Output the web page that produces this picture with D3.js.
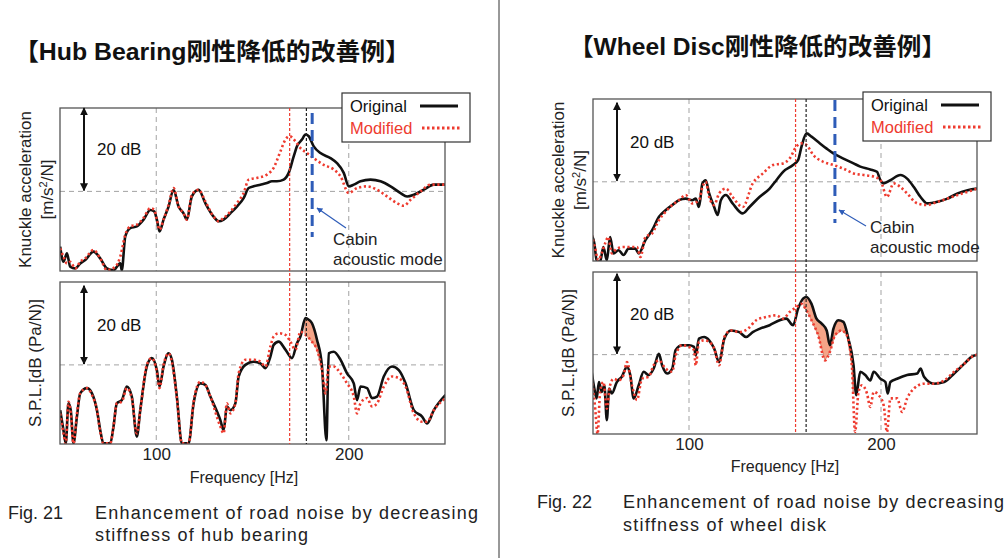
<!DOCTYPE html>
<html><head><meta charset="utf-8">
<script src="https://cdn.jsdelivr.net/npm/d3@7"></script>
<style>
body{margin:0;background:#fff;}
text{font-family:"Liberation Sans",Arial,sans-serif;}
</style></head>
<body><svg id="chart" width="1008" height="558"></svg>
<script>
// [frequency Hz, relative dB]
const hubAccOrig = [[50.1,-13.1],[51.8,-16.7],[53.6,-14.7],[55.3,-17.9],[57.9,-18.3],[60.5,-17.1],[63.1,-16.3],[67.4,-14.3],[70.9,-15.9],[74.4,-18.3],[77.8,-18.7],[81.3,-17.1],[82.1,-18.7],[83.9,-10.7],[86.5,-8.7],[89.9,-8.3],[93.4,-6.7],[96.9,-4.4],[99.0,-4.8],[100.3,-6.7],[101.7,-9.5],[103.8,-6.7],[106.4,-3.6],[109.0,0.4],[111.6,-3.6],[114.2,-5.2],[115.9,-6.7],[118.5,-1.2],[122.0,0.4],[125.5,-2.8],[129.8,-6.0],[132.4,-7.1],[135.0,-6.7],[138.5,-5.2],[141.9,-3.6],[145.4,-1.6],[148.0,0.8],[150.6,1.2],[154.1,1.6],[157.5,2.0],[160.1,2.4],[162.7,2.4],[166.2,2.8],[168.8,4.4],[171.4,8.3],[173.1,10.7],[175.7,12.3],[177.5,13.5],[179.2,13.1],[181.8,10.7],[185.3,9.1],[190.5,7.9],[193.9,6.7],[197.4,4.4],[200.0,1.2],[202.6,1.6],[206.1,2.4],[211.3,2.8],[216.5,2.4],[221.7,1.2],[226.9,-0.4],[230.3,-1.2],[233.8,-0.8],[239.0,0.4],[244.2,1.6],[250.3,1.6]];
const hubAccMod = [[50.1,-13.5],[51.8,-15.5],[53.6,-17.1],[55.3,-16.7],[57.9,-18.3],[60.5,-16.7],[63.1,-15.9],[67.4,-13.9],[70.9,-15.9],[74.4,-18.7],[78.7,-17.9],[81.3,-15.5],[83.9,-10.3],[86.5,-8.3],[89.9,-7.9],[93.4,-6.3],[96.9,-4.0],[99.0,-4.4],[100.3,-6.7],[101.7,-9.1],[103.8,-6.7],[106.4,-3.2],[109.0,0.8],[111.6,-3.6],[114.2,-5.2],[115.9,-6.7],[118.5,-0.8],[122.0,0.4],[125.5,-2.4],[129.8,-6.0],[132.4,-7.1],[135.0,-6.3],[138.5,-4.8],[141.9,-2.8],[145.4,-0.4],[148.0,2.8],[152.3,3.2],[157.5,4.0],[161.0,5.6],[164.5,9.5],[167.1,12.3],[169.3,13.1],[172.3,11.9],[174.9,10.3],[178.3,9.1],[181.8,7.9],[187.0,6.3],[192.2,5.2],[195.7,3.6],[200.0,-0.4],[204.3,0.8],[209.5,1.2],[214.7,0.4],[219.9,-1.2],[225.1,-2.8],[228.6,-3.4],[232.1,-2.0],[237.3,0],[242.5,1.6],[250.3,1.6]];
const hubSplOrig = [[50.1,-11.3],[51.8,-16.3],[53.0,-19.6],[54.4,-9.6],[55.6,-11.3],[57.0,-19.6],[58.8,-12.9],[60.5,-7.1],[64.0,-5.8],[66.6,-7.1],[69.2,-11.3],[70.9,-16.3],[72.6,-19.6],[76.1,-19.6],[77.8,-15.4],[79.5,-9.6],[82.1,-8.8],[84.7,-5.4],[87.3,-7.9],[89.9,-17.9],[91.7,-11.3],[95.1,-0.4],[97.7,1.7],[100.3,-1.3],[101.7,-5.4],[103.8,-0.4],[106.4,2.9],[108.1,1.3],[110.7,-7.9],[113.3,-19.6],[116.8,-19.6],[119.4,-9.6],[122.9,-4.6],[125.5,-5.0],[128.1,-7.9],[133.3,-13.8],[135.0,-16.3],[136.7,-10.4],[138.5,-11.3],[141.1,-9.6],[142.8,-2.9],[146.3,0],[150.6,0.8],[154.1,0.4],[156.7,-0.8],[159.3,2.1],[161.0,5.0],[163.6,5.8],[167.1,3.8],[170.5,1.7],[173.1,5.4],[174.9,7.1],[177.5,11.7],[179.2,11.3],[180.9,10.4],[183.5,6.3],[186.1,-0.4],[188.4,-18.8],[189.6,2.9],[192.2,3.3],[195.7,1.3],[199.1,-2.1],[202.6,-4.6],[204.3,-8.8],[206.1,-5.4],[209.5,-5.8],[212.1,-8.3],[214.7,-7.9],[218.2,-2.9],[222.5,-0.4],[226.0,-1.3],[229.5,-4.6],[233.8,-11.3],[238.1,-12.9],[240.7,-14.6],[244.2,-11.3],[250.3,-7.5]];
const hubSplMod = [[50.1,-12.1],[51.8,-17.1],[53.0,-19.6],[54.4,-9.2],[55.6,-12.1],[57.0,-19.6],[58.8,-12.1],[60.5,-7.1],[64.0,-5.8],[66.6,-7.5],[69.2,-11.3],[70.9,-16.7],[72.6,-19.6],[76.1,-19.6],[77.8,-15.4],[79.5,-9.6],[82.1,-9.2],[84.7,-5.8],[87.3,-8.3],[89.9,-17.1],[91.7,-11.3],[95.1,0],[97.7,1.7],[100.3,-1.7],[101.7,-5.8],[103.8,0],[106.4,2.9],[108.1,0.8],[110.7,-8.3],[113.3,-19.6],[116.8,-19.6],[119.4,-9.2],[122.9,-4.2],[125.5,-5.0],[128.1,-7.9],[133.3,-15.4],[135.0,-17.1],[136.7,-9.6],[138.5,-12.1],[141.1,-9.6],[142.8,-2.1],[146.3,1.3],[150.6,1.3],[154.1,0.8],[156.7,-0.4],[159.3,4.6],[161.0,7.1],[163.6,7.9],[167.1,7.5],[169.7,5.8],[172.3,3.8],[174.9,8.3],[177.5,7.5],[180.9,5.8],[183.5,3.8],[186.1,-1.3],[187.9,-7.1],[189.6,-0.4],[192.2,-0.4],[195.7,-2.1],[199.1,-4.6],[202.6,-7.9],[204.3,-12.1],[206.1,-9.6],[209.5,-8.3],[212.1,-10.4],[214.7,-9.6],[218.2,-5.4],[222.5,-2.9],[226.0,-3.3],[229.5,-5.4],[233.8,-12.1],[238.1,-14.2],[240.7,-14.2],[244.2,-11.3],[250.3,-8.3]];

const discAccOrig = [[49.3,-13.3],[50.7,-15.4],[51.9,-19.6],[53.7,-20],[55.4,-16.3],[57.2,-19.6],[58.9,-13.8],[60.7,-17.9],[63.3,-17.1],[65.9,-18.3],[68.5,-16.7],[72.0,-16.7],[73.8,-17.9],[77.3,-14.6],[80.8,-12.1],[84.3,-8.8],[87.8,-7.1],[91.3,-5.8],[94.8,-4.6],[98.3,-4.2],[101.7,-4.6],[103.5,-4.2],[105.2,-6.3],[107.0,-0.4],[108.7,0.4],[110.5,-2.9],[113.1,-6.3],[114.9,-8.3],[116.6,-4.6],[119.2,-3.3],[122.7,-5.4],[128.0,-7.9],[131.5,-6.3],[136.7,-3.8],[142.0,-1.7],[145.5,0.4],[149.0,2.5],[154.2,4.2],[156.8,5.4],[158.6,8.8],[161.2,12.1],[163.8,11.3],[168.2,9.6],[171.7,8.3],[175.2,7.1],[180.4,5.8],[185.7,4.6],[189.2,3.8],[194.4,3.1],[197.9,2.5],[199.7,0.4],[201.4,-0.4],[204.9,0.4],[210.1,1.7],[213.6,0.8],[217.1,-1.3],[220.6,-3.8],[224.1,-5.4],[229.4,-5.0],[234.6,-4.2],[239.9,-2.9],[245.1,-2.1],[250.3,-1.7]];
const discAccMod = [[49.3,-13.3],[51.0,-16.3],[52.8,-19.6],[54.5,-17.9],[56.3,-15.4],[58.0,-13.8],[59.8,-17.9],[62.4,-16.7],[65.9,-16.3],[69.4,-16.3],[72.9,-16.3],[74.7,-18.8],[77.3,-13.8],[80.8,-12.9],[84.3,-9.6],[87.8,-7.5],[91.3,-5.8],[94.8,-4.6],[98.3,-3.3],[101.7,-5.4],[105.2,-4.6],[107.0,-1.3],[108.7,0],[110.5,-3.8],[113.1,-5.8],[115.7,-2.9],[119.2,-1.7],[122.7,-3.8],[128.0,-6.3],[133.2,-0.4],[138.5,2.1],[143.7,4.2],[149.0,4.6],[152.4,5.8],[155.9,8.8],[158.6,9.6],[161.2,9.2],[164.7,6.7],[169.9,5.0],[175.2,4.2],[180.4,3.3],[185.7,2.1],[190.9,1.7],[196.2,1.3],[199.7,0.4],[203.1,-3.8],[206.6,-0.4],[210.1,-1.3],[213.6,-2.9],[218.9,-5.4],[224.1,-5.8],[229.4,-5.0],[234.6,-4.2],[239.9,-3.3],[245.1,-2.5],[250.3,-1.7]];
const discSplOrig = [[49.3,-4.2],[50.7,-8.3],[51.9,-10.7],[53.1,-6.7],[54.5,-9.1],[55.9,-7.5],[57.2,-16.0],[58.4,-8.3],[59.8,-9.5],[62.4,-6.7],[65.0,-5.4],[67.7,-3.0],[69.4,-5.0],[71.2,-10.7],[73.8,-7.5],[76.4,-4.2],[79.0,-5.0],[81.6,-3.4],[84.3,0.2],[86.0,-2.6],[88.6,-4.6],[91.3,-3.4],[93.0,1.1],[96.5,2.3],[100,2.3],[102.6,1.9],[103.5,-0.2],[105.2,3.9],[107.9,4.3],[110.5,3.5],[113.1,1.5],[115.7,-1.8],[118.4,3.9],[121.9,5.9],[126.2,5.5],[129.7,4.3],[133.2,5.5],[136.7,6.3],[142.0,7.2],[147.2,8.4],[150.7,8.8],[154.2,7.2],[156.8,11.2],[159.4,13.7],[161.2,14.1],[163.8,12.4],[166.4,8.8],[169.1,7.6],[171.7,5.9],[173.4,2.3],[175.2,6.3],[177.8,8.4],[180.4,8.0],[183.0,3.9],[185.7,-2.6],[187.1,-9.9],[189.2,-4.2],[191.8,-5.0],[194.4,-6.3],[196.2,-4.2],[199.7,-5.9],[202.3,-6.7],[203.5,-9.5],[204.9,-6.7],[208.4,-5.9],[213.6,-5.0],[218.9,-4.6],[220.6,-3.4],[222.4,-5.4],[227.6,-7.1],[232.9,-6.7],[238.1,-4.6],[243.4,-2.2],[246.9,-0.6],[250.3,0]];
const discSplMod = [[49.3,-5.9],[51.0,-12.4],[52.4,-19.4],[53.7,-9.1],[55.4,-6.7],[57.2,-13.2],[58.9,-7.5],[60.7,-5.9],[63.3,-6.3],[65.9,-5.0],[67.7,-1.8],[70.3,-7.5],[72.9,-11.1],[75.5,-5.9],[79.0,-5.4],[81.6,-2.6],[84.3,-1.4],[87.8,-3.4],[91.3,-4.2],[93.0,-0.2],[96.5,2.3],[100,1.9],[102.6,1.1],[103.5,-2.6],[105.2,3.1],[107.9,3.5],[110.5,3.1],[113.1,1.5],[115.7,-2.6],[118.4,4.3],[121.9,5.9],[126.2,5.5],[130.6,6.3],[135.0,8.4],[140.2,9.2],[145.5,9.6],[149.0,8.8],[152.4,10.4],[155.9,11.6],[158.6,12.4],[161.2,10.8],[163.8,8.4],[167.3,4.7],[170.8,-1.4],[173.4,0.7],[176.0,4.7],[179.5,5.9],[182.2,4.7],[184.8,-2.6],[186.5,-18.9],[188.3,-9.1],[190.0,-7.5],[192.7,-9.5],[194.4,-12.8],[196.2,-9.1],[198.8,-9.9],[201.4,-12.4],[203.1,-18.9],[204.9,-10.7],[208.4,-10.7],[211.0,-14.0],[213.6,-10.7],[217.1,-8.3],[222.4,-7.1],[227.6,-7.1],[232.9,-6.3],[238.1,-4.2],[243.4,-2.2],[248.6,-0.2],[250.3,0]];

const freqTicks = [100, 200];
const gridFreqs = [100, 200];

const panels = [
  {title:"【Hub Bearing刚性降低的改善例】", tx:14, ty:60, tw:396, x0:60, x1:445,
   top:{y0:108, y1:271, dom:[-18.9,19.8], orig:hubAccOrig, mod:hubAccMod},
   bot:{y0:282, y1:444, dom:[-19.75,20.7], orig:hubSplOrig, mod:hubSplMod, fill:[177.2,188]},
   redF:169.3, blackF:178, blueF:181, blueY:[113,237],
   cabin:{x:333, y:245, ax:[346,228], bx:[317,208]},
   legend:{x:342, y:93}, ylab:{k:25, m:47, s:35}, freqX:244,
   xlabY:463, freqY:483, cap:{fx:8, tx:95, y1:519, y2:541, w1:383, w2:213, l1:"Enhancement of road noise by decreasing", l2:"stiffness of hub bearing", fig:"Fig. 21"}},
  {title:"【Wheel Disc刚性降低的改善例】", tx:569, ty:55, tw:377, x0:593, x1:977,
   top:{y0:99, y1:261, dom:[-19.8,20.7], orig:discAccOrig, mod:discAccMod},
   bot:{y0:272, y1:434, dom:[-19.4,20.2], orig:discSplOrig, mod:discSplMod, fill:[159.8,185.5]},
   redF:155.5, blackF:161, blueF:176, blueY:[100,223],
   cabin:{x:870, y:233, ax:[866,226], bx:[839,210]},
   legend:{x:863, y:92}, ylab:{k:558, m:580, s:568}, freqX:785,
   xlabY:453, freqY:472, cap:{fx:537, tx:623, y1:508, y2:531, w1:381, w2:203, l1:"Enhancement of road noise by decreasing", l2:"stiffness of wheel disk", fig:"Fig. 22"}}
];

const RED = "#ee3b2f", BLUE = "#2e5cb8";
const svg = d3.select("#chart");
const defs = svg.append("defs");
["arrowBlk","arrowBlue"].forEach((id, i) => {
  defs.append("marker").attr("id", id).attr("viewBox","0 0 10 10").attr("refX",9).attr("refY",5)
    .attr("markerWidth", i ? 5 : 4).attr("markerHeight", i ? 5 : 4).attr("orient","auto-start-reverse")
    .append("path").attr("d","M0,0L10,5L0,10z").attr("fill", i ? BLUE : "#111");
});

// separator
svg.append("line").attr("x1",499).attr("x2",499).attr("y1",0).attr("y2",558).attr("stroke","#333").attr("stroke-width",1);

function interp(series, f) {
  const i = d3.bisector(d => d[0]).left(series, f);
  if (i <= 0) return series[0][1];
  if (i >= series.length) return series[series.length-1][1];
  const a = series[i-1], b = series[i];
  return a[1] + (b[1]-a[1]) * (f-a[0]) / (b[0]-a[0]);
}

panels.forEach((p, pi) => {
  const g = svg.append("g");
  const x = d3.scaleLinear().domain([50, 250]).range([p.x0, p.x1]);

  g.append("text").attr("x", p.tx).attr("y", p.ty).text(p.title)
    .style("font-family","'Liberation Sans','Noto Sans CJK SC',sans-serif")
    .attr("font-size", 24).attr("font-weight","bold").attr("fill","#111")
    .attr("textLength", p.tw).attr("lengthAdjust","spacingAndGlyphs");

  [p.top, p.bot].forEach((pl, k) => {
    const y = d3.scaleLinear().domain(pl.dom).range([pl.y1, pl.y0]);
    const cid = "clip" + pi + k;
    defs.append("clipPath").attr("id", cid).append("rect")
      .attr("x", p.x0).attr("y", pl.y0).attr("width", p.x1 - p.x0).attr("height", pl.y1 - pl.y0);

    // grid
    gridFreqs.forEach(f => g.append("line").attr("x1", x(f)).attr("x2", x(f)).attr("y1", pl.y0).attr("y2", pl.y1)
      .attr("stroke","#999").attr("stroke-dasharray","5,4").attr("stroke-width",0.9));
    g.append("line").attr("x1", p.x0).attr("x2", p.x1).attr("y1", y(0)).attr("y2", y(0))
      .attr("stroke","#999").attr("stroke-dasharray","5,4").attr("stroke-width",0.9);

    const cg = g.append("g").attr("clip-path", `url(#${cid})`);
    const line = d3.line().x(d => x(d[0])).y(d => y(d[1])).curve(d3.curveMonotoneX);

    if (pl.fill) {
      const fs = d3.range(pl.fill[0], pl.fill[1], 0.25).concat([pl.fill[1]]);
      cg.append("path").datum(fs)
        .attr("d", d3.area().x(f => x(f)).y0(f => y(interp(pl.mod, f))).y1(f => y(Math.max(interp(pl.orig, f), interp(pl.mod, f)))))
        .attr("fill","#f4a487").attr("stroke","#c0503a").attr("stroke-width",0.6);
    }
    cg.append("path").datum(pl.orig).attr("d", line).attr("fill","none")
      .attr("stroke","#111").attr("stroke-width",2.6).attr("stroke-linejoin","round");
    cg.append("path").datum(pl.mod).attr("d", line).attr("fill","none")
      .attr("stroke",RED).attr("stroke-width",2.6).attr("stroke-dasharray","2.2,2.6");

    g.append("rect").attr("x", p.x0).attr("y", pl.y0).attr("width", p.x1 - p.x0).attr("height", pl.y1 - pl.y0)
      .attr("fill","none").attr("stroke","#555").attr("stroke-width",1.3);

    // 20 dB arrow
    const ax = p.x0 + 24;
    g.append("line").attr("x1", ax).attr("x2", ax).attr("y1", y(0) - 1).attr("y2", y(20) + 1)
      .attr("stroke","#111").attr("stroke-width",2)
      .attr("marker-start","url(#arrowBlk)").attr("marker-end","url(#arrowBlk)");
    g.append("text").attr("x", ax + 13).attr("y", (y(0) + y(20)) / 2 + 6).text("20 dB")
      .attr("font-size", 17).attr("fill","#111");
  });

  // marker frequencies
  g.append("line").attr("x1", x(p.redF)).attr("x2", x(p.redF)).attr("y1", p.top.y0).attr("y2", p.bot.y1)
    .attr("stroke", RED).attr("stroke-width",1.2).attr("stroke-dasharray","3,2");
  g.append("line").attr("x1", x(p.blackF)).attr("x2", x(p.blackF)).attr("y1", p.top.y0).attr("y2", p.bot.y1)
    .attr("stroke","#222").attr("stroke-width",1.2).attr("stroke-dasharray","3,2");
  g.append("line").attr("x1", x(p.blueF)).attr("x2", x(p.blueF)).attr("y1", p.blueY[0]).attr("y2", p.blueY[1])
    .attr("stroke", BLUE).attr("stroke-width",3).attr("stroke-dasharray","11,6");

  // cabin annotation
  g.append("line").attr("x1", p.cabin.ax[0]).attr("y1", p.cabin.ax[1]).attr("x2", p.cabin.bx[0]).attr("y2", p.cabin.bx[1])
    .attr("stroke", BLUE).attr("stroke-width",1.2).attr("marker-end","url(#arrowBlue)");
  g.append("text").attr("x", p.cabin.x).attr("y", p.cabin.y).text("Cabin").attr("font-size",17).attr("fill","#222");
  g.append("text").attr("x", p.cabin.x).attr("y", p.cabin.y + 20).text("acoustic mode").attr("font-size",17).attr("fill","#222");

  // legend
  const lg = g.append("g").attr("transform", `translate(${p.legend.x},${p.legend.y})`);
  lg.append("rect").attr("width",128).attr("height",49).attr("fill","#fff").attr("stroke","#333").attr("stroke-width",1.2);
  lg.append("text").attr("x",8).attr("y",19).text("Original").attr("font-size",16.5).attr("fill","#111");
  lg.append("line").attr("x1",78).attr("x2",116).attr("y1",13).attr("y2",13).attr("stroke","#111").attr("stroke-width",3);
  lg.append("text").attr("x",8).attr("y",41).text("Modified").attr("font-size",16.5).attr("fill",RED);
  lg.append("line").attr("x1",80).attr("x2",118).attr("y1",35).attr("y2",35).attr("stroke",RED).attr("stroke-width",3).attr("stroke-dasharray","2.5,2.5");

  // axis labels
  const yl = (cx, cy, t) => g.append("text").attr("transform", `translate(${cx},${cy}) rotate(-90)`)
    .attr("text-anchor","middle").attr("font-size",17).attr("fill","#222").text(t);
  const tm = (p.top.y0 + p.top.y1) / 2, bm = (p.bot.y0 + p.bot.y1) / 2;
  yl(p.ylab.k + 6, tm, "Knuckle acceleration");
  g.append("text").attr("transform", `translate(${p.ylab.m + 6},${tm}) rotate(-90)`)
    .attr("text-anchor","middle").attr("font-size",17).attr("fill","#222")
    .html('[m/s<tspan dy="-6" font-size="11">2</tspan><tspan dy="6">/N]</tspan>');
  yl(p.ylab.s + 6, bm, "S.P.L.[dB (Pa/N)]");

  const xa = g.append("g").attr("transform", `translate(0,${p.xlabY - 15})`)
    .call(d3.axisBottom(x).tickValues(freqTicks).tickSize(0).tickPadding(0));
  xa.select(".domain").remove();
  xa.selectAll("text").attr("font-size",17).attr("fill","#222").style("font-family","'Liberation Sans',Arial,sans-serif");
  g.append("text").attr("x", p.freqX).attr("y", p.freqY).attr("text-anchor","middle")
    .attr("font-size",16).attr("fill","#222").text("Frequency [Hz]");

  // caption
  g.append("text").attr("x", p.cap.fx).attr("y", p.cap.y1).text(p.cap.fig).attr("font-size",18).attr("fill","#222");
  g.append("text").attr("x", p.cap.tx).attr("y", p.cap.y1).text(p.cap.l1).attr("font-size",18).attr("fill","#222")
    .attr("textLength", p.cap.w1).attr("lengthAdjust","spacing");
  g.append("text").attr("x", p.cap.tx).attr("y", p.cap.y2).text(p.cap.l2).attr("font-size",18).attr("fill","#222")
    .attr("textLength", p.cap.w2).attr("lengthAdjust","spacing");
});
</script></body></html>
